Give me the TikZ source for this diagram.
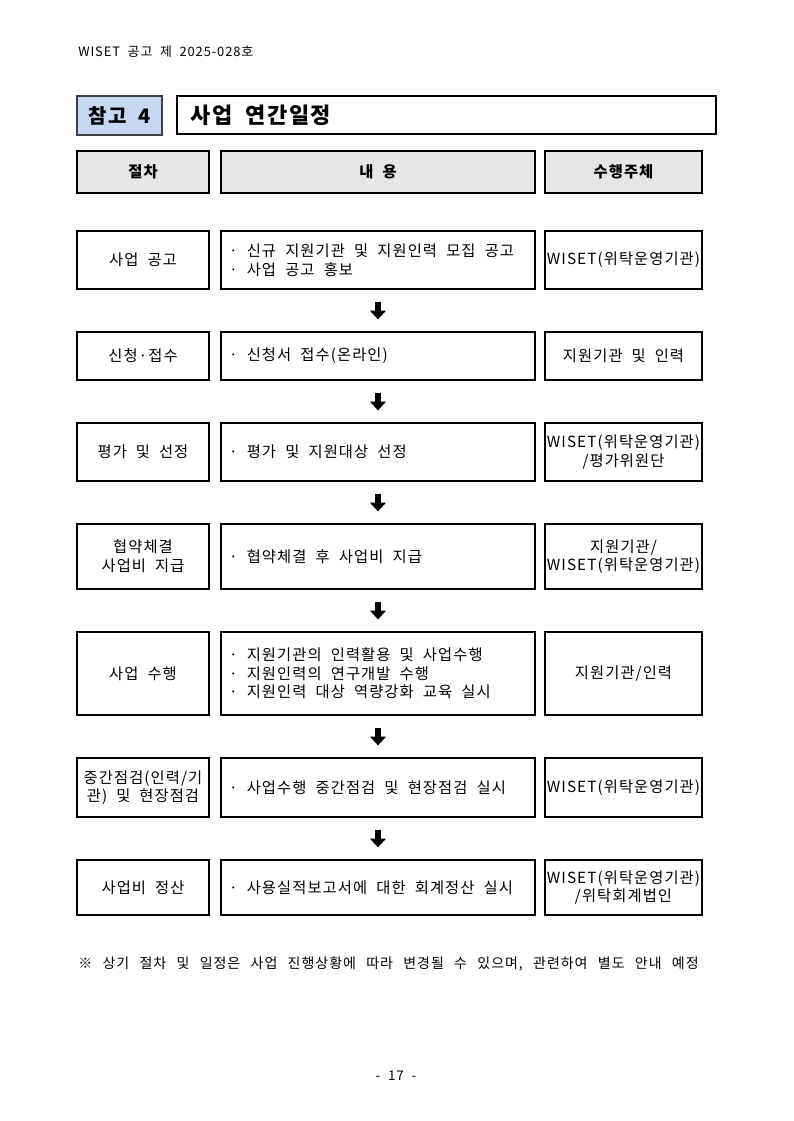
\documentclass[tikz,border=0pt]{standalone}
\usepackage{fontspec}
\setmainfont{Noto Sans CJK KR}[LetterSpace=7, WordSpace=2]
\newfontfamily\notefont{Noto Sans CJK KR}[LetterSpace=7, WordSpace=2.5]
\usetikzlibrary{arrows.meta,calc}
\definecolor{hdrblue}{HTML}{C6D9F1}
\definecolor{hdrgray}{HTML}{E6E6E6}
\tikzset{
  cell/.style={draw=black, line width=0.9pt, inner sep=0pt, align=center,
    font=\fontsize{11.5pt}{14pt}\selectfont},
  c1/.style={cell, minimum width=99pt},
  c2/.style={cell, minimum width=235.5pt, text width=223.5pt, align=left,
    execute at begin node={\spaceskip=0.6em\relax}},
  c3/.style={cell, minimum width=117.75pt},
  hdr/.style={fill=hdrgray, minimum height=31.5pt, font=\fontsize{11.5pt}{14pt}\bfseries\selectfont},
  flowarrow/.style={line width=3.8pt, -{Triangle[width=11.5pt,length=6.5pt]}, shorten <=9pt, shorten >=9pt},
  plain/.style={inner sep=0pt, anchor=west}
}
\begin{document}
\begin{tikzpicture}[x=0.75pt,y=-0.75pt]
\useasboundingbox (0,0) rectangle (793,1121);
\fill[white] (0,0) rectangle (793,1121);

\node[plain, font=\fontsize{9.7pt}{12pt}\selectfont] (docno) at (78,52) {WISET 공고 제 2025-028호};

\node[draw=black!75, line width=0.9pt, fill=hdrblue, minimum width=63.75pt, minimum height=29.25pt,
  font=\fontsize{15pt}{17pt}\bfseries\selectfont] (ref) at (119.5,115.5) {참고 4};
\node[draw=black, line width=0.9pt, minimum width=404.25pt, minimum height=28.5pt] (titlebox) at (446.5,115) {};
\node[plain, font=\fontsize{16.5pt}{19pt}\bfseries\selectfont] (title) at (190,115) {사업 연간일정};

\node[c1, hdr] (h1) at (143,172) {절차};
\node[c2, hdr, align=center] (h2) at (378,172) {내 용};
\node[c3, hdr] (h3) at (623.5,172) {수행주체};

% row 1
\node[c1, minimum height=43.5pt] (a1) at (143,260) {사업 공고};
\node[c2, minimum height=43.5pt] (b1) at (378,260) {· 신규 지원기관 및 지원인력 모집 공고\\· 사업 공고 홍보};
\node[c3, minimum height=43.5pt] (d1) at (623.5,260) {WISET(위탁운영기관)};
% row 2
\node[c1, minimum height=36pt] (a2) at (143,356) {신청·접수};
\node[c2, minimum height=36pt] (b2) at (378,356) {· 신청서 접수(온라인)};
\node[c3, minimum height=36pt] (d2) at (623.5,356) {지원기관 및 인력};
% row 3
\node[c1, minimum height=43.5pt] (a3) at (143,452) {평가 및 선정};
\node[c2, minimum height=43.5pt] (b3) at (378,452) {· 평가 및 지원대상 선정};
\node[c3, minimum height=43.5pt] (d3) at (623.5,452) {WISET(위탁운영기관)\\/평가위원단};
% row 4
\node[c1, minimum height=48.75pt] (a4) at (143,556.5) {협약체결\\사업비 지급};
\node[c2, minimum height=48.75pt] (b4) at (378,556.5) {· 협약체결 후 사업비 지급};
\node[c3, minimum height=48.75pt] (d4) at (623.5,556.5) {지원기관/\\WISET(위탁운영기관)};
% row 5
\node[c1, minimum height=62.25pt] (a5) at (143,673.5) {사업 수행};
\node[c2, minimum height=62.25pt] (b5) at (378,673.5) {· 지원기관의 인력활용 및 사업수행\\· 지원인력의 연구개발 수행\\· 지원인력 대상 역량강화 교육 실시};
\node[c3, minimum height=62.25pt] (d5) at (623.5,673.5) {지원기관/인력};
% row 6
\node[c1, minimum height=44.25pt] (a6) at (143,787.5) {중간점검(인력/기\\관) 및 현장점검};
\node[c2, minimum height=44.25pt] (b6) at (378,787.5) {· 사업수행 중간점검 및 현장점검 실시};
\node[c3, minimum height=44.25pt] (d6) at (623.5,787.5) {WISET(위탁운영기관)};
% row 7
\node[c1, minimum height=41.25pt] (a7) at (143,887.5) {사업비 정산};
\node[c2, minimum height=41.25pt] (b7) at (378,887.5) {· 사용실적보고서에 대한 회계정산 실시};
\node[c3, minimum height=41.25pt] (d7) at (623.5,887.5) {WISET(위탁운영기관)\\/위탁회계법인};

\draw[flowarrow] (b1.south) -- (b2.north);
\draw[flowarrow] (b2.south) -- (b3.north);
\draw[flowarrow] (b3.south) -- (b4.north);
\draw[flowarrow] (b4.south) -- (b5.north);
\draw[flowarrow] (b5.south) -- (b6.north);
\draw[flowarrow] (b6.south) -- (b7.north);

\node[plain, font=\notefont\fontsize{10.5pt}{12pt}\selectfont] (note) at (78,964) {※ 상기 절차 및 일정은 사업 진행상황에 따라 변경될 수 있으며, 관련하여 별도 안내 예정};

\node[inner sep=0pt, font=\fontsize{10pt}{12pt}\selectfont] (page) at (396,1076) {- 17 -};
\end{tikzpicture}
\end{document}
